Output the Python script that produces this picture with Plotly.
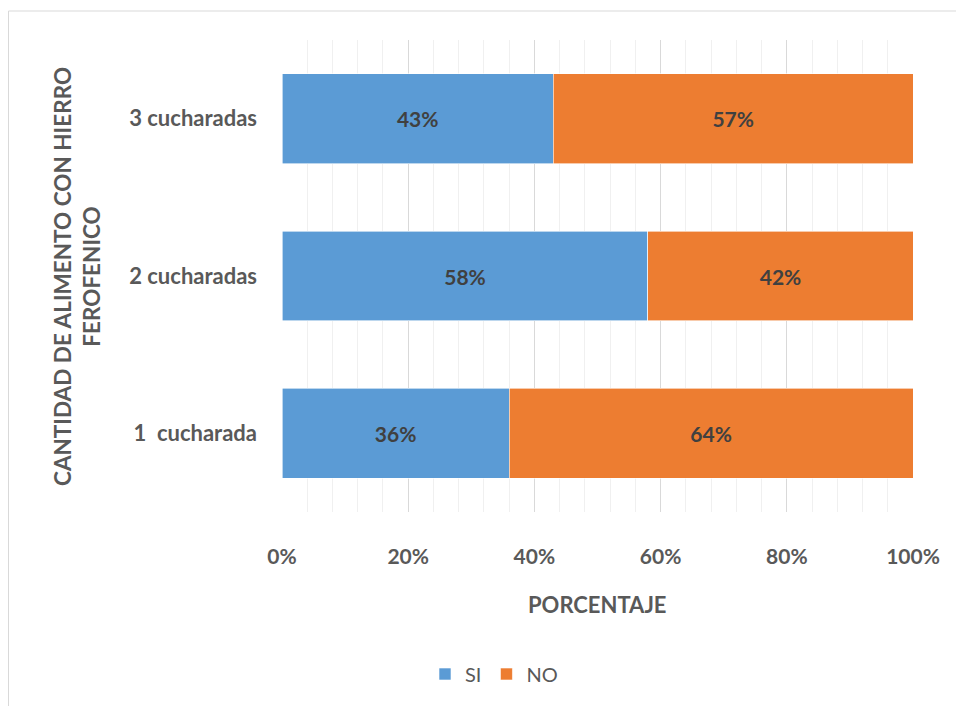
import plotly.graph_objects as go

categories = ["1  cucharada", "2 cucharadas", "3 cucharadas"]
si_values = [0.36, 0.58, 0.43]
no_values = [0.64, 0.42, 0.57]
x_ticks = [0, 0.2, 0.4, 0.6, 0.8, 1.0]
x_tick_labels = ["0%", "20%", "40%", "60%", "80%", "100%"]

FONT = "Lato"
fig = go.Figure()
fig.add_trace(go.Bar(
    y=categories, x=si_values, name="SI", orientation="h",
    marker=dict(color="#5B9BD5", line=dict(color="#ffffff", width=0.6)),
    text=[f"{v:.0%}" for v in si_values], textposition="inside",
    insidetextanchor="middle",
    textfont=dict(family=FONT, size=21, color="#404040", weight="bold"),
))
fig.add_trace(go.Bar(
    y=categories, x=no_values, name="NO", orientation="h",
    marker=dict(color="#ED7D31", line=dict(color="#ffffff", width=0.6)),
    text=[f"{v:.0%}" for v in no_values], textposition="inside",
    insidetextanchor="middle",
    textfont=dict(family=FONT, size=21, color="#404040", weight="bold"),
))

L, R, T, B = 282, 43, 40, 194
W, H = 956, 706
pw, ph = W - L - R, H - T - B

def px_x(px):
    return (px - L) / pw

def px_y(py):
    return (H - B - py) / ph

fig.update_layout(
    width=W, height=H,
    margin=dict(l=L, r=R, t=T, b=B),
    barmode="stack", bargap=0.43,
    plot_bgcolor="white", paper_bgcolor="white",
    font=dict(family=FONT, color="#595959"),
    showlegend=True,
    legend=dict(orientation="h", x=px_x(494), xanchor="center",
                y=px_y(674), yanchor="middle",
                font=dict(family=FONT, size=20, color="#595959"),
                itemwidth=30, traceorder="normal"),
    xaxis=dict(
        range=[0, 1], tickvals=x_ticks, ticktext=x_tick_labels,
        tickfont=dict(family=FONT, size=21, color="#595959", weight="bold"),
        showgrid=True, gridcolor="#D9D9D9", gridwidth=1,
        minor=dict(dtick=0.04, showgrid=True, gridcolor="#F0F0F0", gridwidth=1),
        zeroline=False, showline=False, ticks="", ticklabelstandoff=30,
        fixedrange=True,
    ),
    yaxis=dict(
        tickfont=dict(family=FONT, size=22, color="#595959", weight="bold"),
        showgrid=False, zeroline=False, showline=False, ticks="",
        ticklabelstandoff=24, fixedrange=True,
    ),
)

fig.add_annotation(
    text="PORCENTAJE", x=px_x(597), y=px_y(604), xref="paper", yref="paper",
    showarrow=False, font=dict(family=FONT, size=22, color="#595959", weight="bold"),
    xanchor="center", yanchor="middle",
)
fig.add_annotation(
    text="CANTIDAD DE ALIMENTO CON HIERRO<br>FEROFENICO", x=px_x(77), y=px_y(277),
    xref="paper", yref="paper", textangle=-90, showarrow=False,
    font=dict(family=FONT, size=22.5, color="#595959", weight="bold"),
    xanchor="center", yanchor="middle",
)

# chart border (top & left visible, rest extends outside the viewport)
fig.add_shape(type="rect", xref="paper", yref="paper",
              x0=px_x(8.5), x1=px_x(1000), y0=px_y(750), y1=px_y(11),
              line=dict(color="#D9D9D9", width=1), fillcolor="rgba(0,0,0,0)",
              layer="below")

fig.write_html("out.html")
